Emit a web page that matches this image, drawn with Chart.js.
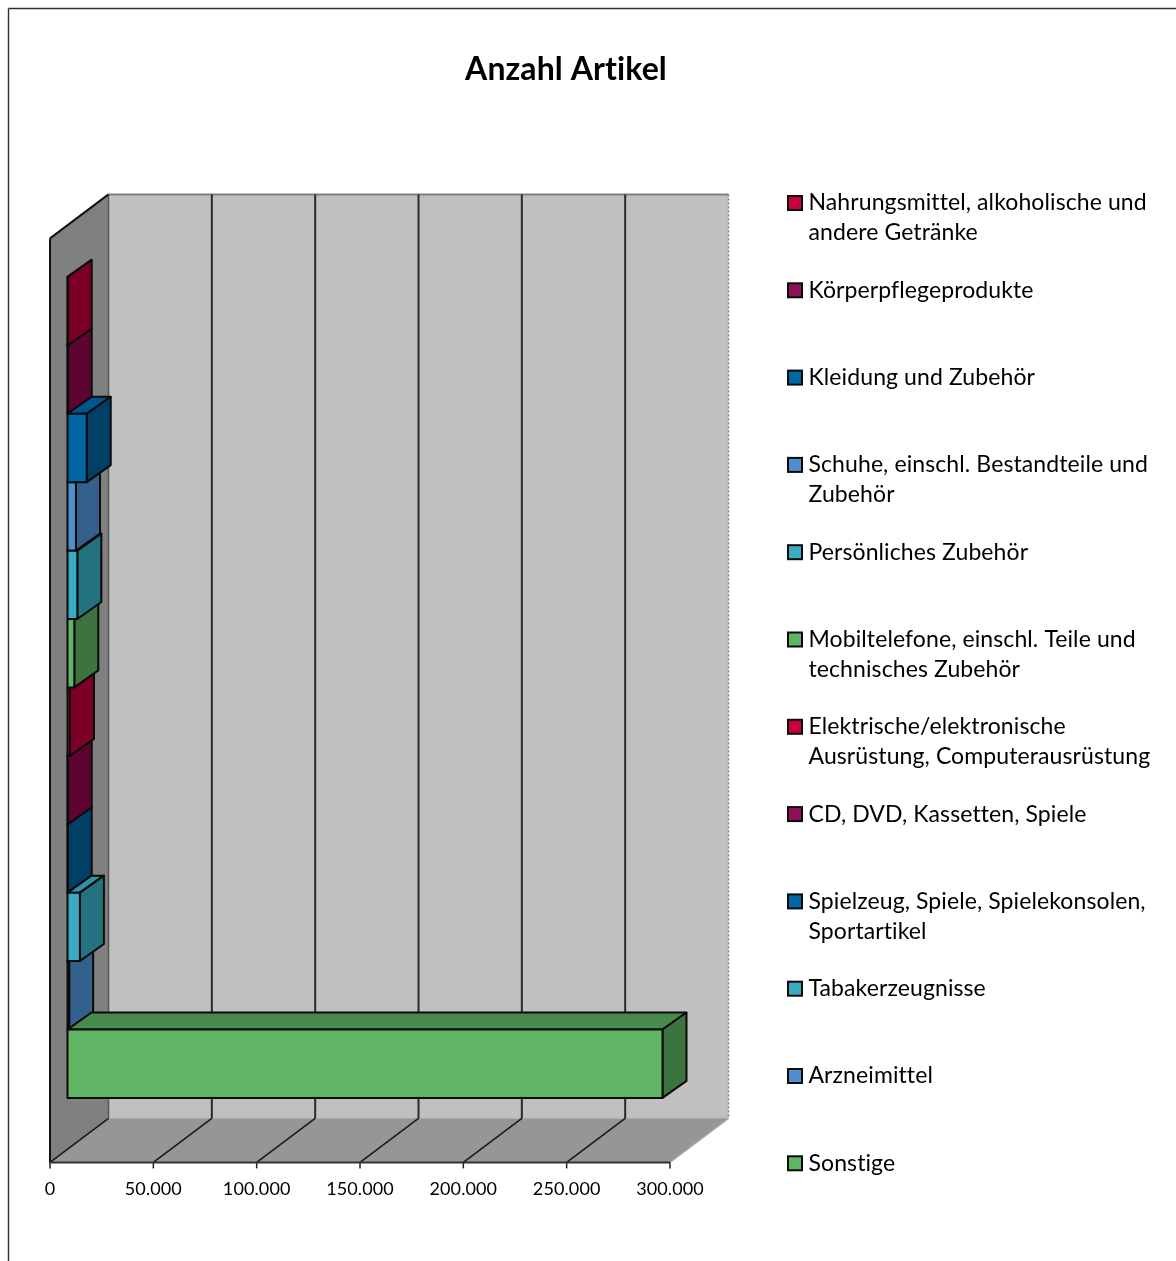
<!DOCTYPE html>
<html lang="de"><head><meta charset="utf-8">
<style>html,body{margin:0;padding:0;background:#fff}canvas{display:block}</style>
<script src="https://cdn.jsdelivr.net/npm/chart.js@4/dist/chart.umd.min.js"></script>
</head><body><canvas id="c" width="1176" height="1261"></canvas>
<script>
// Series in cluster order, top to bottom (same order as the legend)
const seriesNames = ["Nahrungsmittel, alkoholische und andere Getränke","Körperpflegeprodukte","Kleidung und Zubehör","Schuhe, einschl. Bestandteile und Zubehör","Persönliches Zubehör","Mobiltelefone, einschl. Teile und technisches Zubehör","Elektrische/elektronische Ausrüstung, Computerausrüstung","CD, DVD, Kassetten, Spiele","Spielzeug, Spiele, Spielekonsolen, Sportartikel","Tabakerzeugnisse","Arzneimittel","Sonstige"];
const seriesValues = [100,100,9300,4100,4750,3300,1200,100,100,6000,800,287900];
const seriesColors = ["#C9003C","#8E1158","#0067A6","#4F8FD0","#3BABC2","#5FB563","#C9003C","#8E1158","#0067A6","#3BABC2","#4F8FD0","#5FB563"];
const sideColors = ["#7C0026","#5E0433","#003F66","#33608C","#24717F","#3C733F","#7C0026","#5E0433","#003F66","#24717F","#33608C","#3C733F"];
const topColors = ["#96002E","#720A42","#00558A","#3D73A8","#2F93A8","#488A4C","#96002E","#720A42","#00558A","#2F93A8","#3D73A8","#488A4C"];
const paintOrder = [8,7,1,0,10,6,5,4,3,9,2,11];
const legendLines = [["Nahrungsmittel, alkoholische und","andere Getränke"],["Körperpflegeprodukte"],["Kleidung und Zubehör"],["Schuhe, einschl. Bestandteile und","Zubehör"],["Persönliches Zubehör"],["Mobiltelefone, einschl. Teile und","technisches Zubehör"],["Elektrische/elektronische","Ausrüstung, Computerausrüstung"],["CD, DVD, Kassetten, Spiele"],["Spielzeug, Spiele, Spielekonsolen,","Sportartikel"],["Tabakerzeugnisse"],["Arzneimittel"],["Sonstige"]];
const titleText = "Anzahl Artikel";
const axisMax = 300000, axisStep = 50000;
const FONT = "Lato, Carlito, sans-serif";

const WALL = {dx:58.5, dy:-44}, BAR_START = {dx:17.5, dy:-13}, BAR_DEPTH = {dx:24, dy:-17};

function poly(ctx, pts, fill, stroke, lw){
  ctx.beginPath(); pts.forEach((p,i)=> i?ctx.lineTo(p[0],p[1]):ctx.moveTo(p[0],p[1])); ctx.closePath();
  if(fill){ctx.fillStyle=fill;ctx.fill();}
  if(stroke){ctx.strokeStyle=stroke;ctx.lineWidth=lw||1;ctx.lineJoin='round';ctx.stroke();}
}
function line(ctx,x1,y1,x2,y2,c,w,dash){ctx.beginPath();ctx.moveTo(x1,y1);ctx.lineTo(x2,y2);ctx.strokeStyle=c;ctx.lineWidth=w;ctx.setLineDash(dash||[]);ctx.stroke();ctx.setLineDash([]);}

function drawBar(chart,meta,i){
  const ctx=chart.ctx, p=meta.data[0].getProps(['x','y','base','height'],true);
  const x0=p.base,x1=p.x,y0=p.y-p.height/2,y1=p.y+p.height/2, d=BAR_DEPTH;
  ctx.save();
  ctx.translate(BAR_START.dx,BAR_START.dy);
  poly(ctx,[[x0,y0],[x1,y0],[x1+d.dx,y0+d.dy],[x0+d.dx,y0+d.dy]],topColors[i],'#0a0a0a',2);
  poly(ctx,[[x1,y0],[x1+d.dx,y0+d.dy],[x1+d.dx,y1+d.dy],[x1,y1]],sideColors[i],'#0a0a0a',2);
  meta.controller.draw();
  ctx.strokeStyle='#0a0a0a'; ctx.lineWidth=2; ctx.lineJoin='round';
  ctx.strokeRect(x0,y0,x1-x0,y1-y0);
  ctx.restore();
}

const scene = {
  id:'scene',
  afterLayout(chart){ chart.titleBlock.left = 0; chart.titleBlock.right = 1132; },
  beforeDraw(chart){ chart.ctx.letterSpacing='0.1px'; },
  beforeDatasetsDraw(chart){
    const ctx=chart.ctx, x=chart.scales.x, a=chart.chartArea;
    const L=a.left,R=a.right,T=a.top,B=a.bottom, dx=WALL.dx, dy=WALL.dy;
    ctx.save();
    line(ctx,8.5,8.5,1176,8.5,'#303030',1.4); line(ctx,8.5,8.5,8.5,1261,'#303030',1.4);
    poly(ctx,[[L+dx,T+dy],[R+dx,T+dy],[R+dx,B+dy],[L+dx,B+dy]],'#C0C0C0');
    poly(ctx,[[L,T],[L+dx,T+dy],[L+dx,B+dy],[L,B]],'#808080');
    poly(ctx,[[L,B],[L+dx,B+dy],[R+dx,B+dy],[R,B]],'#969696');
    line(ctx,L+dx,T+dy,R+dx,T+dy,'#808080',2);
    line(ctx,R+dx,T+dy,R+dx,B+dy,'#808080',1.5,[2,2]);
    line(ctx,L+dx,B+dy,R+dx,B+dy,'#A8A8A8',1);
    line(ctx,L+dx,T+dy,L+dx,B+dy,'#555',1.5);
    line(ctx,R,B,R+dx,B+dy,'#A8A8A8',1.2);
    x.ticks.forEach(t=>{
      const px=x.getPixelForValue(t.value);
      if(t.value>0 && t.value<axisMax) line(ctx,px+dx,T+dy,px+dx,B+dy,'#2a2a2a',2);
      if(t.value<axisMax) line(ctx,px,B,px+dx,B+dy,'#1a1a1a',1.6);
      line(ctx,px,B,px,B+6,'#222',1.5);
    });
    line(ctx,L,T,L,B,'#111',2);
    line(ctx,L,T,L+dx,T+dy,'#111',2);
    line(ctx,L,B,R,B,'#333',2);
    ctx.restore();
    paintOrder.forEach(i=>drawBar(chart,chart.getDatasetMeta(i),i));
    return false;
  },
  afterDraw(chart){
    const ctx=chart.ctx; ctx.save();
    ctx.font='23px '+FONT; ctx.textBaseline='middle'; ctx.textAlign='left';
    legendLines.forEach((lines,i)=>{
      const cy=203+i*87.3;
      ctx.fillStyle=seriesColors[i]; ctx.strokeStyle='#0a0a0a'; ctx.lineWidth=2;
      ctx.fillRect(788,cy-7,14,14); ctx.strokeRect(788,cy-7,14,14);
      ctx.fillStyle='#000';
      lines.forEach((s,j)=>ctx.fillText(s,808.5,cy+j*30));
    });
    ctx.restore();
  }
};

new Chart(document.getElementById('c'),{
  type:'bar',
  data:{labels:[""],datasets:seriesNames.map((n,i)=>({label:n,data:[seriesValues[i]],backgroundColor:seriesColors[i],borderWidth:0}))},
  plugins:[scene],
  options:{
    indexAxis:'y',responsive:false,animation:false,
    layout:{padding:{left:50,right:506,top:50,bottom:53}},
    datasets:{bar:{categoryPercentage:0.8885,barPercentage:1}},
    plugins:{
      legend:{display:false},tooltip:{enabled:false},
      title:{display:true,text:titleText,color:'#000',font:{family:FONT,size:32,weight:'bold'},padding:{top:0,bottom:150}}
    },
    scales:{
      x:{type:'linear',min:0,max:axisMax,grid:{display:false},border:{display:false},
        ticks:{stepSize:axisStep,maxRotation:0,autoSkip:false,padding:8,color:'#000',font:{family:FONT,size:18},
          callback:v=>String(v).replace(/\B(?=(\d{3})+$)/g,'.')}},
      y:{display:false,grid:{display:false}}
    }
  }
});
</script></body></html>
